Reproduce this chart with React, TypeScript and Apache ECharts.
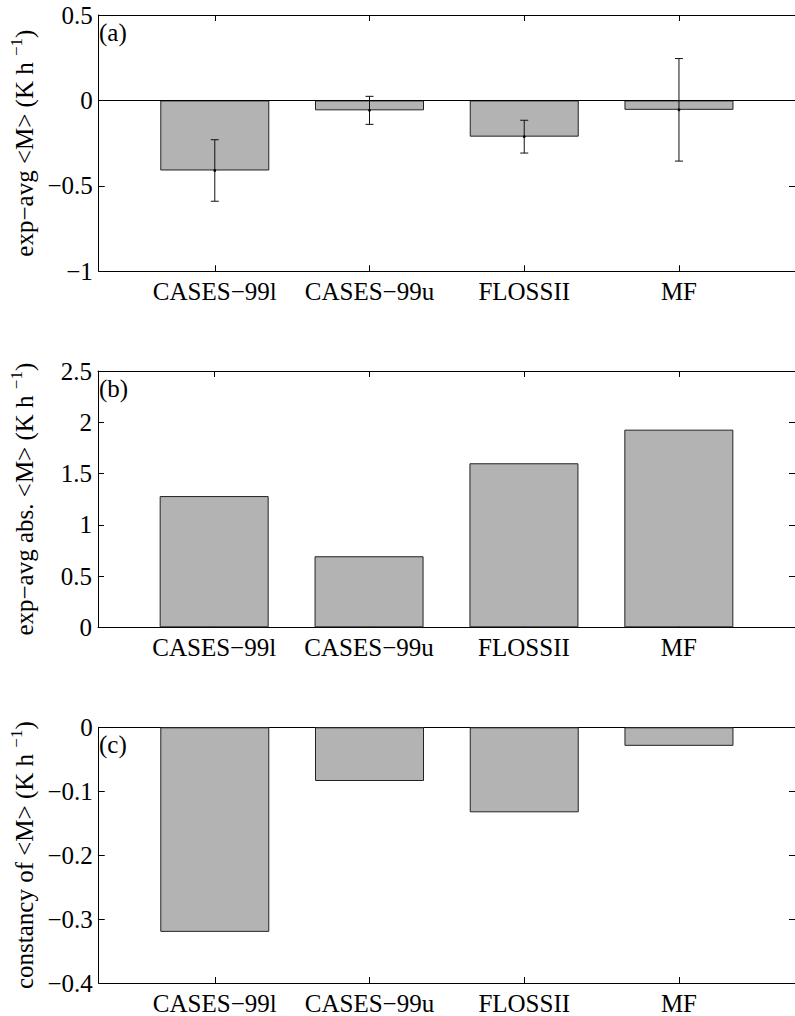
import React, { useEffect, useRef } from "react";
import * as echarts from "echarts";

const FONT = "'Liberation Serif', 'Times New Roman', 'DejaVu Serif', serif";

const categories = ["CASES\u221299l", "CASES\u221299u", "FLOSSII", "MF"];
const positions = [1, 2, 3, 4];

// panel (a): exp-avg <M> with error bars
const expAvg = [-0.41, -0.058, -0.212, -0.055];
const expAvgErr = [0.18, 0.082, 0.096, 0.3];
// panel (b): exp-avg abs. <M>
const expAvgAbs = [1.28, 0.693, 1.6, 1.928];
// panel (c): constancy of <M>
const constancy = [-0.32, -0.084, -0.133, -0.029];

const yTicksA = { min: -1, max: 0.5, interval: 0.5 };
const yTicksB = { min: 0, max: 2.5, interval: 0.5 };
const yTicksC = { min: -0.4, max: 0, interval: 0.1 };

const fmt = (v: number) => {
  const r = Math.round(v * 1000) / 1000;
  if (r === 0) return "0";
  return String(r).replace("-", "\u2212");
};

export default function App() {
  const ref = useRef<HTMLDivElement>(null);
  useEffect(() => {
    document.body.style.margin = "0";
    const chart = echarts.init(ref.current!, null, { renderer: "svg" });
    const panels = [
      { top: 15, height: 256.3, ticks: yTicksA, name: "exp\u2212avg <M> (K h ", values: expAvg, err: expAvgErr, letter: "(a)" },
      { top: 371, height: 256.3, ticks: yTicksB, name: "exp\u2212avg abs. <M> (K h ", values: expAvgAbs, err: null, letter: "(b)" },
      { top: 727.3, height: 256, ticks: yTicksC, name: "constancy of <M> (K h ", values: constancy, err: null, letter: "(c)" },
    ];
    const FS = 25;
    const grid: any[] = [];
    const xAxis: any[] = [];
    const yAxis: any[] = [];
    const series: any[] = [];
    const graphic: any[] = [];
    const black = "#000";
    panels.forEach((p, i) => {
      grid.push({ left: 95.5, width: 701.5, top: p.top, height: p.height });
      const baseX = {
        type: "value",
        gridIndex: i,
        min: 0.25,
        max: 4.75,
        splitLine: { show: false },
        axisLine: { show: true, onZero: false, lineStyle: { color: black, width: 1 } },
        axisTick: { show: true, inside: true, length: 6, customValues: positions, lineStyle: { color: black, width: 1 } },
      };
      xAxis.push({
        ...baseX,
        position: "bottom",
        axisLabel: {
          show: true,
          customValues: positions,
          formatter: (v: number) => categories[Math.round(v) - 1] || "",
          fontFamily: FONT,
          fontSize: FS,
          color: black,
          margin: 8,
        },
      });
      xAxis.push({ ...baseX, position: "top", axisLabel: { show: false } });
      const baseY = {
        type: "value",
        gridIndex: i,
        min: p.ticks.min,
        max: p.ticks.max,
        interval: p.ticks.interval,
        splitLine: { show: false },
        axisLine: { show: true, onZero: false, lineStyle: { color: black, width: 1 } },
        axisTick: { show: true, inside: true, length: 6, lineStyle: { color: black, width: 1 } },
      };
      yAxis.push({
        ...baseY,
        position: "left",
        axisLabel: { show: true, formatter: fmt, fontFamily: FONT, fontSize: FS, color: black, margin: 6 },
        name: `{t|${p.name}}{s|\u22121}{t|)}`,
        nameLocation: "middle",
        nameGap: 58,
        nameTextStyle: {
          fontFamily: FONT,
          fontSize: FS,
          color: black,
          rich: {
            t: { fontFamily: FONT, fontSize: FS, color: black, lineHeight: 32, verticalAlign: "middle" },
            s: { fontFamily: FONT, fontSize: 17, color: black, lineHeight: 16, verticalAlign: "top" },
          },
        },
      });
      yAxis.push({ ...baseY, position: "right", axisLabel: { show: false } });

      const bar: any = {
        type: "bar",
        xAxisIndex: 2 * i,
        yAxisIndex: 2 * i,
        barWidth: 109,
        data: positions.map((x, j) => [x, p.values[j]]),
        itemStyle: { color: "#b3b3b3", borderColor: "#222", borderWidth: 1 },
        z: 2,
      };
      if (i === 0) {
        bar.markLine = {
          silent: true,
          symbol: "none",
          label: { show: false },
          lineStyle: { color: black, type: "solid", width: 1 },
          data: [{ yAxis: 0 }],
        };
      }
      series.push(bar);
      if (p.err) {
        const err = p.err;
        series.push({
          type: "custom",
          xAxisIndex: 2 * i,
          yAxisIndex: 2 * i,
          z: 5,
          data: positions.map((x, j) => [x, p.values[j], err[j]]),
          renderItem: (params: any, api: any) => {
            const x = api.value(0);
            const v = api.value(1);
            const e = api.value(2);
            const hi = api.coord([x, v + e]);
            const lo = api.coord([x, v - e]);
            const c = api.coord([x, v]);
            const cap = 4;
            const ls = { stroke: "#111", lineWidth: 1 };
            return {
              type: "group",
              children: [
                { type: "line", shape: { x1: hi[0], y1: hi[1], x2: lo[0], y2: lo[1] }, style: ls },
                { type: "line", shape: { x1: hi[0] - cap, y1: hi[1], x2: hi[0] + cap, y2: hi[1] }, style: ls },
                { type: "line", shape: { x1: lo[0] - cap, y1: lo[1], x2: lo[0] + cap, y2: lo[1] }, style: ls },
                { type: "circle", shape: { cx: c[0], cy: c[1], r: 1.4 }, style: { fill: "#000" } },
              ],
            };
          },
        });
      }
      graphic.push({
        type: "text",
        left: 99,
        top: p.top + 5,
        style: { text: p.letter, font: `${FS}px ${FONT}`, fill: black },
      });
    });

    chart.setOption({
      animation: false,
      backgroundColor: "#fff",
      grid,
      xAxis,
      yAxis,
      series,
      graphic,
    });
    return () => chart.dispose();
  }, []);
  return <div ref={ref} style={{ width: 795, height: 1016 }} />;
}
